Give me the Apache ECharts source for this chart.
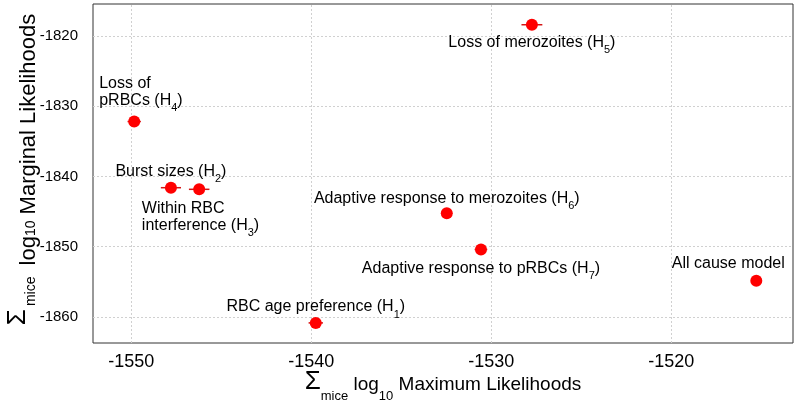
<!DOCTYPE html>
<html>
<head>
<meta charset="utf-8">
<script src="https://cdn.jsdelivr.net/npm/echarts@6/dist/echarts.min.js"></script>
<style>
html,body{margin:0;padding:0;background:#fff;}
#chart{width:799px;height:403px;}
</style>
</head>
<body>
<div id="chart"></div>
<script>
// ---- data ----
const modelLabels = [
  'RBC age preference (H_{1})',
  'Burst sizes (H_{2})',
  'Within RBC\ninterference (H_{3})',
  'Loss of\npRBCs (H_{4})',
  'Loss of merozoites (H_{5})',
  'Adaptive response to merozoites (H_{6})',
  'Adaptive response to pRBCs (H_{7})',
  'All cause model'
];
const maxLikelihood = [-1539.75, -1547.80, -1546.23, -1549.84, -1527.74, -1532.47, -1530.57, -1515.27];
const marginalLikelihood = [-1860.84, -1841.61, -1841.84, -1832.2, -1818.43, -1845.26, -1850.4, -1854.85];
const maxLikLow = [-1540.15, -1548.36, -1546.80, -1550.21, -1528.32, -1532.67, -1530.92, -1515.47];
const maxLikHigh = [-1539.35, -1547.24, -1545.66, -1549.47, -1527.16, -1532.27, -1530.22, -1515.07];
const xTicks = [-1550, -1540, -1530, -1520];
const yTicks = [-1860, -1850, -1840, -1830, -1820];

// ---- label placement (layout, not data) ----
const labelLayoutCfg = [
  {align: 'center', dx: 0, dy: -15.3},
  {align: 'center', dx: 0, dy: -15.3},
  {align: 'left', dx: -57.3, dy: 28.2},
  {align: 'left', dx: -35, dy: -28.8},
  {align: 'center', dx: 0, dy: 18.6},
  {align: 'center', dx: 0, dy: -14.6},
  {align: 'center', dx: 0, dy: 19.4},
  {align: 'center', dx: -28, dy: -16.4}
];

function toRich(s) {
  return s.split('\n').map(function (line) {
    let r = '{t|' + line.replace(/_\{([^}]*)\}/g, '}{sub|$1}{t|') + '}';
    return r.replace(/\{t\|\}/g, '');
  }).join('\n');
}

const FONT = 'Liberation Sans, Arial, Helvetica, sans-serif';

const scatterData = maxLikelihood.map(function (x, i) {
  return {
    value: [x, marginalLikelihood[i]],
    name: modelLabels[i],
    label: {align: labelLayoutCfg[i].align}
  };
});
const errData = maxLikelihood.map(function (x, i) {
  return [maxLikLow[i], maxLikHigh[i], marginalLikelihood[i]];
});

const chart = echarts.init(document.getElementById('chart'), null, {renderer: 'canvas'});
chart.setOption({
  animation: false,
  backgroundColor: '#ffffff',
  grid: {left: 93, right: 6, top: 4, bottom: 60, containLabel: false, outerBoundsMode: 'none',
         show: true, borderColor: '#333', borderWidth: 1, backgroundColor: 'transparent'},
  xAxis: {
    type: 'value', min: -1552.13, max: -1513.23,
    name: '{sig|Σ}{sub|mice}{t| log}{sub|10}{t| Maximum Likelihoods}',
    nameLocation: 'middle', nameGap: 26, nameMoveOverlap: false,
    nameTextStyle: {
      fontFamily: FONT, color: '#000',
      rich: {
        sig: {fontFamily: FONT, fontSize: 26, lineHeight: 26, verticalAlign: 'top', color: '#000'},
        t: {fontFamily: FONT, fontSize: 19, lineHeight: 19, verticalAlign: 'top', padding: [6, 0, 0, 0], color: '#000'},
        sub: {fontFamily: FONT, fontSize: 13, lineHeight: 13, verticalAlign: 'top', padding: [21, 0, 0, 0], color: '#000'}
      }
    },
    axisLine: {show: false},
    splitLine: {show: false},
    axisTick: {show: true, inside: true, length: 339, customValues: xTicks, lineStyle: {color: '#d0d0d0', type: [2, 2], width: 1}},
    axisLabel: {customValues: xTicks, fontFamily: FONT, fontSize: 18, color: '#000', margin: 10,
                formatter: function (v) { return String(v); }}
  },
  yAxis: {
    type: 'value', min: -1863.7, max: -1815.48,
    name: '{sig|Σ}{subm|mice}{t| log}{sub|10}{t| Marginal Likelihoods}',
    nameLocation: 'middle', nameGap: 62, nameRotate: 90, nameMoveOverlap: false,
    nameTextStyle: {
      fontFamily: FONT, color: '#000', padding: [0, 0, 0, 8],
      rich: {
        sig: {fontFamily: FONT, fontSize: 26, lineHeight: 26, verticalAlign: 'top', padding: [0, 3, 0, 0], color: '#000'},
        t: {fontFamily: FONT, fontSize: 22, lineHeight: 22, verticalAlign: 'top', padding: [13, 0, 0, 0], color: '#000'},
        sub: {fontFamily: FONT, fontSize: 14, lineHeight: 14, verticalAlign: 'top', padding: [19, 0, 0, 0], color: '#000'},
        subm: {fontFamily: FONT, fontSize: 14, lineHeight: 14, verticalAlign: 'top', padding: [19, 5, 0, 0], color: '#000'}
      }
    },
    axisLine: {show: false},
    splitLine: {show: false},
    axisTick: {show: true, inside: true, length: 700, customValues: yTicks, lineStyle: {color: '#d0d0d0', type: [2, 2], width: 1}},
    axisLabel: {customValues: yTicks, fontFamily: FONT, fontSize: 15, color: '#000', margin: 15,
                formatter: function (v) { return String(v); }}
  },
  series: [
    {
      type: 'custom',
      z: 1,
      encode: {x: [0, 1], y: 2},
      data: errData,
      renderItem: function (params, api) {
        const y = api.value(2);
        const p1 = api.coord([api.value(0), y]);
        const p2 = api.coord([api.value(1), y]);
        return {type: 'line', shape: {x1: p1[0], y1: p1[1], x2: p2[0], y2: p2[1]}, style: {stroke: '#d41515', lineWidth: 1.5}};
      }
    },
    {
      type: 'scatter',
      z: 2,
      symbol: 'circle',
      symbolSize: 12,
      itemStyle: {color: '#ff0000', opacity: 1},
      data: scatterData,
      label: {
        show: true,
        position: 'inside',
        verticalAlign: 'middle',
        formatter: function (p) { return toRich(p.name); },
        rich: {
          t: {fontFamily: FONT, fontSize: 16, lineHeight: 17, verticalAlign: 'top', color: '#000'},
          sub: {fontFamily: FONT, fontSize: 11, lineHeight: 11, verticalAlign: 'top', padding: [10, 0, 0, 0], color: '#000'}
        }
      },
      labelLayout: function (params) {
        const c = labelLayoutCfg[params.dataIndex];
        return {dx: c.dx, dy: c.dy, hideOverlap: false};
      }
    }
  ]
});
</script>
</body>
</html>
